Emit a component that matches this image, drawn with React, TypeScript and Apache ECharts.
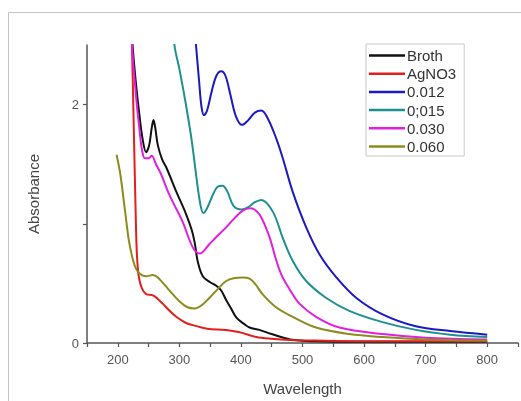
import React, { useEffect, useRef } from "react";
import * as echarts from "echarts";

const seriesNames = ["Broth", "AgNO3", "0.012", "0;015", "0.030", "0.060"];
const seriesColors = ["#111111", "#e0201c", "#1a1ac0", "#1e9090", "#e020e0", "#8c8c1e"];

const brothX = [215, 224, 230, 235, 240, 246, 251, 255, 258, 261, 265, 272, 279, 295, 311, 320, 325, 330, 338, 350, 360, 368, 376, 385, 393, 405, 414, 430, 450, 480, 520, 600, 700, 800];
const brothY = [3.2, 2.5, 2.15, 1.92, 1.72, 1.6, 1.66, 1.8, 1.87, 1.8, 1.66, 1.54, 1.47, 1.27, 1.08, 0.95, 0.84, 0.68, 0.56, 0.51, 0.48, 0.44, 0.36, 0.28, 0.21, 0.16, 0.13, 0.11, 0.075, 0.03, 0.015, 0.01, 0.01, 0.01];

const agno3X = [218, 223, 226, 229, 231, 234, 239, 246, 257, 265, 273, 284, 295, 310, 322, 345, 376, 398, 425, 450, 480, 520, 600, 700, 800];
const agno3Y = [3.5, 2.5, 1.8, 1.1, 0.75, 0.56, 0.46, 0.41, 0.4, 0.37, 0.33, 0.27, 0.22, 0.17, 0.15, 0.12, 0.11, 0.09, 0.05, 0.035, 0.025, 0.02, 0.015, 0.015, 0.015];

const c012X = [322, 327, 332, 336, 340, 345, 352, 360, 368, 375, 383, 392, 402, 412, 422, 433, 444, 457, 468, 484, 506, 528, 555, 587, 630, 684, 740, 800];
const c012Y = [2.8, 2.5, 2.2, 1.98, 1.91, 1.95, 2.1, 2.24, 2.28, 2.24, 2.08, 1.9, 1.83, 1.87, 1.93, 1.95, 1.88, 1.72, 1.55, 1.27, 0.97, 0.74, 0.55, 0.38, 0.24, 0.14, 0.1, 0.07];

const c015X = [285, 292, 300, 310, 320, 330, 335, 339, 345, 355, 362, 370, 378, 388, 401, 412, 422, 433, 452, 468, 484, 506, 538, 576, 630, 684, 740, 800];
const c015Y = [3.0, 2.5, 2.3, 2.02, 1.7, 1.3, 1.14, 1.09, 1.13, 1.25, 1.31, 1.32, 1.27, 1.15, 1.12, 1.14, 1.18, 1.2, 1.1, 0.88, 0.69, 0.52, 0.38, 0.27, 0.175, 0.11, 0.07, 0.05];

const c030X = [218, 223, 230, 235, 239, 244, 250, 255, 262, 270, 284, 305, 322, 333, 349, 362, 376, 390, 403, 414, 422, 430, 438, 447, 457, 466, 478, 495, 522, 560, 630, 700, 800];
const c030Y = [3.2, 2.5, 2.05, 1.8, 1.63, 1.55, 1.55, 1.57, 1.5, 1.42, 1.24, 1.02, 0.8, 0.75, 0.83, 0.9, 0.97, 1.05, 1.11, 1.13, 1.12, 1.08, 1.0, 0.88, 0.7, 0.57, 0.46, 0.33, 0.22, 0.13, 0.075, 0.045, 0.03];

const c060X = [198, 204, 212, 218, 225, 230, 236, 246, 257, 265, 284, 300, 313, 325, 337, 349, 362, 376, 390, 403, 414, 424, 435, 457, 484, 522, 576, 630, 700, 800];
const c060Y = [1.58, 1.42, 1.1, 0.86, 0.69, 0.62, 0.58, 0.56, 0.57, 0.55, 0.44, 0.35, 0.3, 0.29, 0.32, 0.38, 0.45, 0.52, 0.545, 0.55, 0.54, 0.49, 0.41, 0.3, 0.22, 0.13, 0.075, 0.05, 0.03, 0.02];

const xLabelValues = [200, 300, 400, 500, 600, 700, 800];
const yLabelValues = [0, 2];
const yTickValues = [0, 1, 2];

const allX = [brothX, agno3X, c012X, c015X, c030X, c060X];
const allY = [brothY, agno3Y, c012Y, c015Y, c030Y, c060Y];

export default function App() {
  const ref = useRef<HTMLDivElement>(null);
  useEffect(() => {
    if (!ref.current) return;
    const chart = echarts.init(ref.current, null, { renderer: "svg" });
    const font = "Liberation Sans, Arial, sans-serif";
    chart.setOption({
      animation: false,
      textStyle: { fontFamily: font },
      grid: { left: 87, right: 2, top: 45, bottom: 55 },
      graphic: [
        { type: "line", shape: { x1: 8.5, y1: 12.5, x2: 521, y2: 12.5 }, style: { stroke: "#c4c4c4", lineWidth: 1 } },
        { type: "line", shape: { x1: 8.5, y1: 12.5, x2: 8.5, y2: 401 }, style: { stroke: "#c4c4c4", lineWidth: 1 } },
      ],
      legend: {
        orient: "vertical",
        left: 366,
        top: 44,
        padding: [4, 8, 2, 3],
        icon: "rect",
        itemWidth: 36,
        itemHeight: 2.5,
        itemGap: 3.2,
        borderColor: "#c8c8c8",
        borderWidth: 1,
        borderRadius: 0,
        textStyle: { fontSize: 15, color: "#333", fontFamily: font, padding: [0, 0, 0, -3] },
        data: seriesNames,
      },
      xAxis: {
        type: "value",
        min: 150,
        max: 850,
        interval: 50,
        name: "Wavelength",
        nameLocation: "middle",
        nameGap: 38,
        nameTextStyle: { fontSize: 15, color: "#444", fontFamily: font },
        axisLine: { show: true, lineStyle: { color: "#555", width: 1.5 } },
        axisTick: { show: true, length: 4, lineStyle: { color: "#555", width: 1.2 } },
        axisLabel: {
          fontSize: 13,
          color: "#555",
          margin: 10,
          formatter: (v: number) => (xLabelValues.indexOf(v) >= 0 ? String(v) : ""),
        },
        splitLine: { show: false },
      },
      yAxis: {
        type: "value",
        min: 0,
        max: 2.5,
        name: "Absorbance",
        nameLocation: "middle",
        nameGap: 46,
        nameTextStyle: { fontSize: 15, color: "#444", fontFamily: font },
        axisLine: { show: true, lineStyle: { color: "#555", width: 1.5 } },
        axisTick: { show: true, length: 4, customValues: yTickValues, lineStyle: { color: "#555", width: 1.2 } },
        axisLabel: { fontSize: 13, color: "#555", margin: 8, customValues: yLabelValues },
        splitLine: { show: false },
      },
      series: seriesNames.map((name, i) => ({
        name,
        type: "line",
        smooth: 0.35,
        symbol: "none",
        clip: true,
        lineStyle: { color: seriesColors[i], width: 2 },
        itemStyle: { color: seriesColors[i] },
        data: allX[i].map((x, j) => [x, allY[i][j]]),
      })),
    });
    return () => chart.dispose();
  }, []);
  return <div ref={ref} style={{ position: "fixed", left: 0, top: 0, width: 521, height: 401 }} />;
}
